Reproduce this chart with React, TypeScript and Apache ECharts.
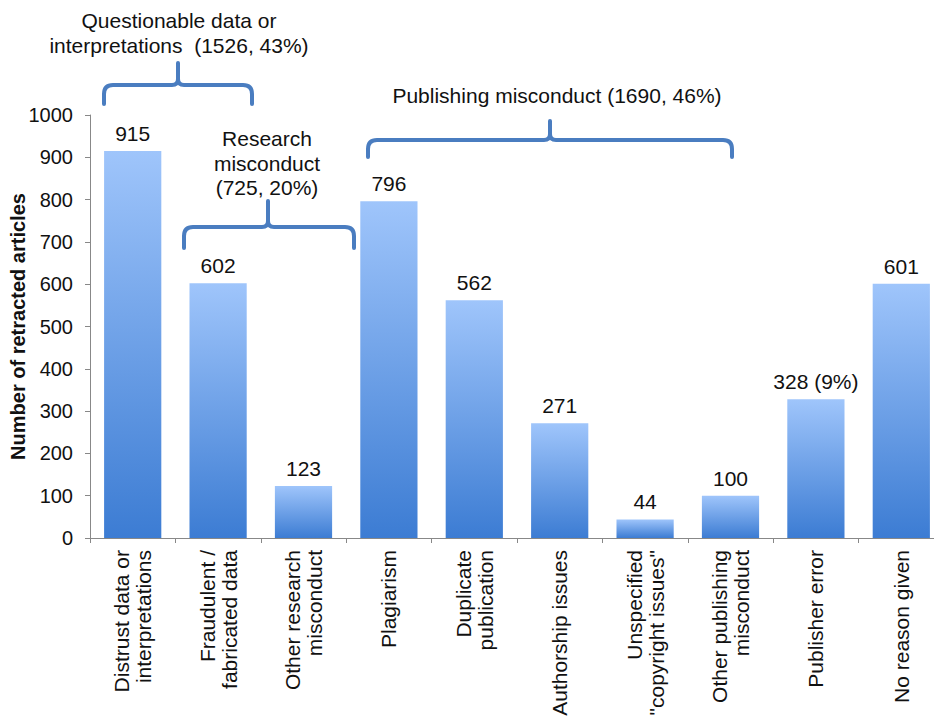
import React, { useEffect, useRef } from "react";
import * as echarts from "echarts";

const categories = [
  "Distrust data or\ninterpretations",
  "Fraudulent /\nfabricated data",
  "Other research\nmisconduct",
  "Plagiarism",
  "Duplicate\npublication",
  "Authorship issues",
  "Unspecified\n\"copyright issues\"",
  "Other publishing\nmisconduct",
  "Publisher error",
  "No reason given",
];
const values = [915, 602, 123, 796, 562, 271, 44, 100, 328, 601];
const valueLabels = ["915", "602", "123", "796", "562", "271", "44", "100", "328 (9%)", "601"];
const yMin = 0;
const yMax = 1000;
const yStep = 100;
const yAxisTitle = "Number of retracted articles";

const groupTitles = [
  ["Questionable data or", "interpretations  (1526, 43%)"],
  ["Research", "misconduct", "(725, 20%)"],
  ["Publishing misconduct (1690, 46%)"],
];

const FONT = '"Liberation Sans", Arial, Helvetica, sans-serif';
const BRACE_COLOR = "#4a7dc0";

const braceGeom = [
  { name: "braceQ", x1: 104, x2: 252, xt: 178, h: 85, yb: 104, yt: 63, tx: 179, ty: [20, 45] },
  { name: "braceR", x1: 184, x2: 354, xt: 268, h: 227, yb: 248, yt: 201, tx: 267, ty: [138, 163, 187] },
  { name: "braceP", x1: 368, x2: 732, xt: 550, h: 140, yb: 157, yt: 121, tx: 557, ty: [95] },
];

function bracePath(b: any) {
  const r = 9;
  const s = 6;
  return (
    `M${b.x1} ${b.yb} L${b.x1} ${b.h + r} Q${b.x1} ${b.h} ${b.x1 + r} ${b.h} ` +
    `L${b.xt - s} ${b.h} Q${b.xt} ${b.h} ${b.xt} ${b.h - s} L${b.xt} ${b.yt} ` +
    `M${b.xt} ${b.h - s} Q${b.xt} ${b.h} ${b.xt + s} ${b.h} ` +
    `L${b.x2 - r} ${b.h} Q${b.x2} ${b.h} ${b.x2} ${b.h + r} L${b.x2} ${b.yb}`
  );
}

braceGeom.forEach((b) => {
  echarts.graphic.registerShape(b.name, echarts.graphic.extendPath(bracePath(b), {}) as any);
});

export default function App() {
  const ref = useRef<HTMLDivElement>(null);

  useEffect(() => {
    if (!ref.current) return;
    const chart = echarts.init(ref.current, null, { renderer: "svg" });

    const graphics: any[] = [];
    braceGeom.forEach((b, gi) => {
      graphics.push({
        type: b.name,
        x: 0,
        y: 0,
        silent: true,
        style: { stroke: BRACE_COLOR, lineWidth: 4, fill: "none", lineCap: "round", lineJoin: "round" },
      });
      groupTitles[gi].forEach((line, li) => {
        graphics.push({
          type: "text",
          x: b.tx,
          y: b.ty[li],
          silent: true,
          style: {
            text: line,
            font: `21px ${FONT}`,
            fill: "#111111",
            align: "center",
            verticalAlign: "middle",
          },
        });
      });
    });

    chart.setOption({
      animation: false,
      backgroundColor: "#ffffff",
      textStyle: { fontFamily: FONT },
      grid: {
        left: 90,
        right: 0,
        top: 115,
        bottom: 180,
        containLabel: false,
        outerBoundsMode: "none",
      },
      xAxis: {
        type: "category",
        data: categories,
        axisLine: { lineStyle: { color: "#888888", width: 1 } },
        axisTick: { show: true, length: 5, lineStyle: { color: "#888888" } },
        axisLabel: {
          rotate: 90,
          interval: 0,
          margin: 12,
          fontSize: 21,
          lineHeight: 22,
          color: "#111111",
          fontFamily: FONT,
        },
      },
      yAxis: {
        type: "value",
        min: yMin,
        max: yMax,
        interval: yStep,
        name: yAxisTitle,
        nameLocation: "middle",
        nameGap: 62,
        nameMoveOverlap: false,
        nameTextStyle: { fontSize: 20, fontWeight: "bold", color: "#111111", fontFamily: FONT },
        splitLine: { show: false },
        axisLine: { show: true, lineStyle: { color: "#888888", width: 1 } },
        axisTick: { show: true, length: 5, lineStyle: { color: "#888888" } },
        axisLabel: {
          margin: 17,
          fontSize: 20,
          color: "#111111",
          fontFamily: FONT,
          formatter: (v: number) => String(v),
        },
      },
      series: [
        {
          type: "bar",
          data: values,
          barCategoryGap: "33%",
          itemStyle: {
            color: {
              type: "linear",
              x: 0,
              y: 0,
              x2: 0,
              y2: 1,
              colorStops: [
                { offset: 0, color: "#9fc5fb" },
                { offset: 1, color: "#3c7cd3" },
              ],
            },
          },
          label: {
            show: true,
            position: "top",
            distance: 7,
            fontSize: 21,
            color: "#111111",
            fontFamily: FONT,
            formatter: (p: any) => valueLabels[p.dataIndex],
          },
        },
      ],
      graphic: graphics,
    });

    return () => chart.dispose();
  }, []);

  return (
    <div style={{ position: "absolute", left: 0, top: 0, width: 934, height: 718, overflow: "hidden", background: "#fff" }}>
      <div ref={ref} style={{ width: 944, height: 718 }} />
    </div>
  );
}
